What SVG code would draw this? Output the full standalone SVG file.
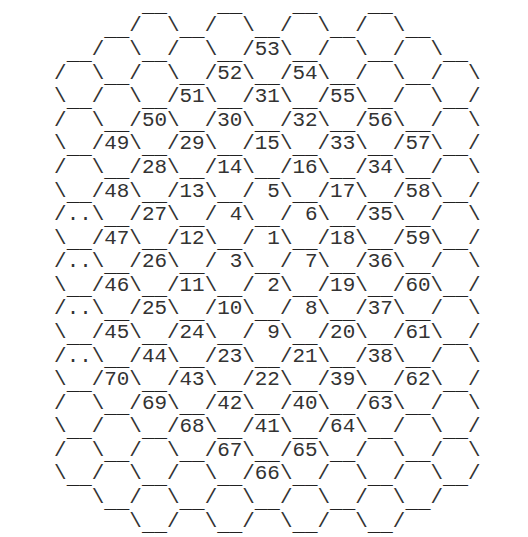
<svg xmlns="http://www.w3.org/2000/svg" width="528" height="537" viewBox="0 0 528 537">
<style>
.g text{font-family:"Liberation Mono","Courier New",monospace;font-size:20.92px;fill:#333;white-space:pre}
.u text{fill:#222}
</style>
<rect width="528" height="537" fill="#fff"/>
<g class="g">
<g id="hex-underscores" class="u" transform="translate(0,4.5)">
<text xml:space="preserve" x="54.1" y="7.8">       __    __    __    __</text>
<text xml:space="preserve" x="54.1" y="31.4">    __    __    __    __    __</text>
<text xml:space="preserve" x="54.1" y="55.0"> __    __    __    __    __    __</text>
<text xml:space="preserve" x="54.1" y="78.6">    __    __    __    __    __</text>
<text xml:space="preserve" x="54.1" y="102.2"> __    __    __    __    __    __</text>
<text xml:space="preserve" x="54.1" y="125.7">    __    __    __    __    __</text>
<text xml:space="preserve" x="54.1" y="149.3"> __    __    __    __    __    __</text>
<text xml:space="preserve" x="54.1" y="172.9">    __    __    __    __    __</text>
<text xml:space="preserve" x="54.1" y="196.5"> __    __    __    __    __    __</text>
<text xml:space="preserve" x="54.1" y="220.1">    __    __    __    __    __</text>
<text xml:space="preserve" x="54.1" y="243.6"> __    __    __    __    __    __</text>
<text xml:space="preserve" x="54.1" y="267.2">    __    __    __    __    __</text>
<text xml:space="preserve" x="54.1" y="290.8"> __    __    __    __    __    __</text>
<text xml:space="preserve" x="54.1" y="314.4">    __    __    __    __    __</text>
<text xml:space="preserve" x="54.1" y="338.0"> __    __    __    __    __    __</text>
<text xml:space="preserve" x="54.1" y="361.5">    __    __    __    __    __</text>
<text xml:space="preserve" x="54.1" y="385.1"> __    __    __    __    __    __</text>
<text xml:space="preserve" x="54.1" y="408.7">    __    __    __    __    __</text>
<text xml:space="preserve" x="54.1" y="432.3"> __    __    __    __    __    __</text>
<text xml:space="preserve" x="54.1" y="455.9">    __    __    __    __    __</text>
<text xml:space="preserve" x="54.1" y="479.4"> __    __    __    __    __    __</text>
<text xml:space="preserve" x="54.1" y="503.0">    __    __    __    __    __</text>
<text xml:space="preserve" x="54.1" y="526.6">       __    __    __    __</text>
</g>
<g id="hex-sides-and-labels">
<text xml:space="preserve" x="54.1" y="31.4">      /  \  /  \  /  \  /  \</text>
<text xml:space="preserve" x="54.1" y="55.0">   /  \  /  \  /53\  /  \  /  \</text>
<text xml:space="preserve" x="54.1" y="78.6">/  \  /  \  /52\  /54\  /  \  /  \</text>
<text xml:space="preserve" x="54.1" y="102.2">\  /  \  /51\  /31\  /55\  /  \  /</text>
<text xml:space="preserve" x="54.1" y="125.7">/  \  /50\  /30\  /32\  /56\  /  \</text>
<text xml:space="preserve" x="54.1" y="149.3">\  /49\  /29\  /15\  /33\  /57\  /</text>
<text xml:space="preserve" x="54.1" y="172.9">/  \  /28\  /14\  /16\  /34\  /  \</text>
<text xml:space="preserve" x="54.1" y="196.5">\  /48\  /13\  / 5\  /17\  /58\  /</text>
<text xml:space="preserve" x="54.1" y="220.1">/..\  /27\  / 4\  / 6\  /35\  /  \</text>
<text xml:space="preserve" x="54.1" y="243.6">\  /47\  /12\  / 1\  /18\  /59\  /</text>
<text xml:space="preserve" x="54.1" y="267.2">/..\  /26\  / 3\  / 7\  /36\  /  \</text>
<text xml:space="preserve" x="54.1" y="290.8">\  /46\  /11\  / 2\  /19\  /60\  /</text>
<text xml:space="preserve" x="54.1" y="314.4">/..\  /25\  /10\  / 8\  /37\  /  \</text>
<text xml:space="preserve" x="54.1" y="338.0">\  /45\  /24\  / 9\  /20\  /61\  /</text>
<text xml:space="preserve" x="54.1" y="361.5">/..\  /44\  /23\  /21\  /38\  /  \</text>
<text xml:space="preserve" x="54.1" y="385.1">\  /70\  /43\  /22\  /39\  /62\  /</text>
<text xml:space="preserve" x="54.1" y="408.7">/  \  /69\  /42\  /40\  /63\  /  \</text>
<text xml:space="preserve" x="54.1" y="432.3">\  /  \  /68\  /41\  /64\  /  \  /</text>
<text xml:space="preserve" x="54.1" y="455.9">/  \  /  \  /67\  /65\  /  \  /  \</text>
<text xml:space="preserve" x="54.1" y="479.4">\  /  \  /  \  /66\  /  \  /  \  /</text>
<text xml:space="preserve" x="54.1" y="503.0">   \  /  \  /  \  /  \  /  \  /</text>
<text xml:space="preserve" x="54.1" y="526.6">      \  /  \  /  \  /  \  /</text>
</g>
</g>
</svg>
